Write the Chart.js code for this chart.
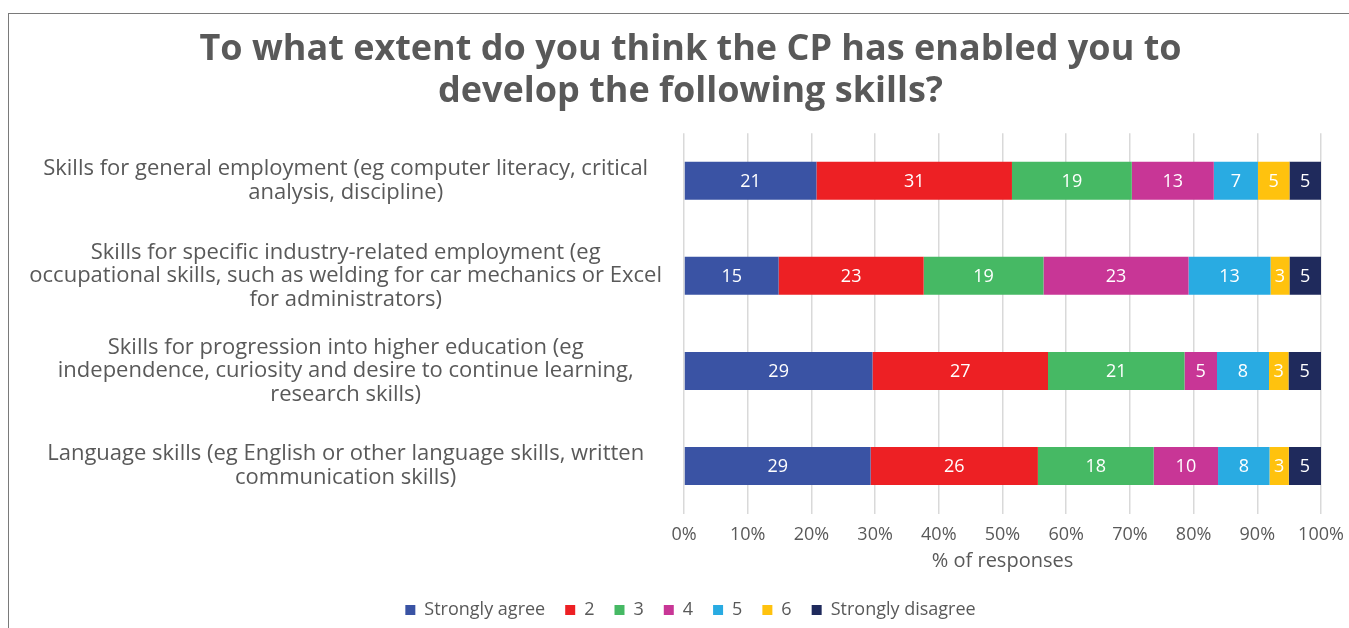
<!DOCTYPE html>
<html>
<head>
<meta charset="utf-8">
<script src="https://cdn.jsdelivr.net/npm/chart.js@4"></script>
<style>
  html, body { margin: 0; padding: 0; background: #ffffff; }
  #wrap { position: relative; width: 1349px; height: 628px; overflow: hidden; }
  #frame { position: absolute; left: 8px; top: 13px; width: 1400px; height: 700px;
           border-top: 1.5px solid #7a7a7a; border-left: 1.5px solid #7a7a7a; }
  canvas { position: absolute; left: 0; top: 0; }
</style>
</head>
<body>
<div id="wrap">
  <div id="frame"></div>
  <canvas id="c" width="1349" height="628"></canvas>
</div>
<script>
const titleLines = ["To what extent do you think the CP has enabled you to", "develop the following skills?"];
const categories = [
  ["Skills for general employment (eg computer literacy, critical", "analysis, discipline)"],
  ["Skills for specific industry-related employment (eg", "occupational skills, such as welding for car mechanics or Excel", "for administrators)"],
  ["Skills for progression into higher education (eg", "independence, curiosity and desire to continue learning,", "research skills)"],
  ["Language skills (eg English or other language skills, written", "communication skills)"]
];
const seriesNames = ["Strongly agree", "2", "3", "4", "5", "6", "Strongly disagree"];
const seriesColors = ["#3A53A4", "#ED2024", "#46B964", "#C83696", "#29ABE2", "#FFC20E", "#1F2A5C"];
const stronglyAgree    = [21, 15, 29, 29];
const s2               = [31, 23, 27, 26];
const s3               = [19, 19, 21, 18];
const s4               = [13, 23, 5, 10];
const s5               = [7, 13, 8, 8];
const s6               = [5, 3, 3, 3];
const stronglyDisagree = [5, 5, 5, 5];
const xTickLabels = ["0%", "10%", "20%", "30%", "40%", "50%", "60%", "70%", "80%", "90%", "100%"];
const xAxisTitle = "% of responses";

const raw = [stronglyAgree, s2, s3, s4, s5, s6, stronglyDisagree];
const totals = categories.map((_, i) => raw.reduce((a, s) => a + s[i], 0));
const datasets = raw.map((vals, k) => ({
  label: seriesNames[k],
  data: vals.map((v, i) => v / totals[i] * 100),
  rawValues: vals,
  backgroundColor: seriesColors[k],
  borderWidth: 0,
  barPercentage: 0.8,
  categoryPercentage: 0.5
}));

const labelPlugin = {
  id: 'segLabels',
  afterLayout(chart) {
    // let the category labels extend left of the layout padding
    chart.scales.y.left = 20;
  },
  afterDatasetsDraw(chart) {
    const ctx = chart.ctx;
    ctx.save();
    ctx.font = '18px "Open Sans"';
    ctx.fillStyle = '#ffffff';
    ctx.textAlign = 'center';
    ctx.textBaseline = 'middle';
    chart.data.datasets.forEach((ds, di) => {
      const meta = chart.getDatasetMeta(di);
      meta.data.forEach((bar, i) => {
        const cx = (bar.x + bar.base) / 2;
        ctx.fillText(String(ds.rawValues[i]), cx, bar.y + 1);
      });
    });
    ctx.restore();
  }
};

new Chart(document.getElementById('c'), {
  type: 'bar',
  data: { labels: categories, datasets },
  plugins: [labelPlugin],
  options: {
    indexAxis: 'y',
    responsive: false,
    animation: false,
    layout: { padding: { left: 60, right: 28, top: 0, bottom: -1 } },
    plugins: {
      tooltip: { enabled: false },
      title: {
        display: true,
        text: titleLines,
        color: '#595959',
        font: { family: 'Open Sans', size: 36, weight: 'bold', lineHeight: 1.17 },
        padding: { top: 29, bottom: 20 }
      },
      legend: {
        position: 'bottom',
        labels: {
          color: '#595959',
          font: { family: 'Open Sans', size: 18 },
          boxWidth: 10, boxHeight: 10,
          padding: 20
        }
      }
    },
    scales: {
      x: {
        stacked: true,
        min: 0, max: 100,
        ticks: {
          stepSize: 10,
          color: '#595959',
          font: { family: 'Open Sans', size: 18, lineHeight: 0.78 },
          padding: 14,
          callback: (v, i) => xTickLabels[i]
        },
        grid: { color: '#d9d9d9', lineWidth: 1.5, drawTicks: false },
        border: { display: false },
        title: {
          display: true, text: xAxisTitle, color: '#595959',
          font: { family: 'Open Sans', size: 20 }, padding: { top: 0.5, bottom: 7.5 }
        },
        afterFit(scale) { scale.paddingRight = 0; scale.paddingLeft = 0; scale.height = 67.5; }
      },
      y: {
        stacked: true,
        ticks: {
          color: '#595959',
          font: { family: 'Open Sans', size: 22, lineHeight: 1.07 },
          crossAlign: 'center',
          padding: 22
        },
        grid: { display: false, drawTicks: false },
        border: { display: false },
        afterFit(scale) { scale.width = 624; }
      }
    }
  }
});
</script>
</body>
</html>
